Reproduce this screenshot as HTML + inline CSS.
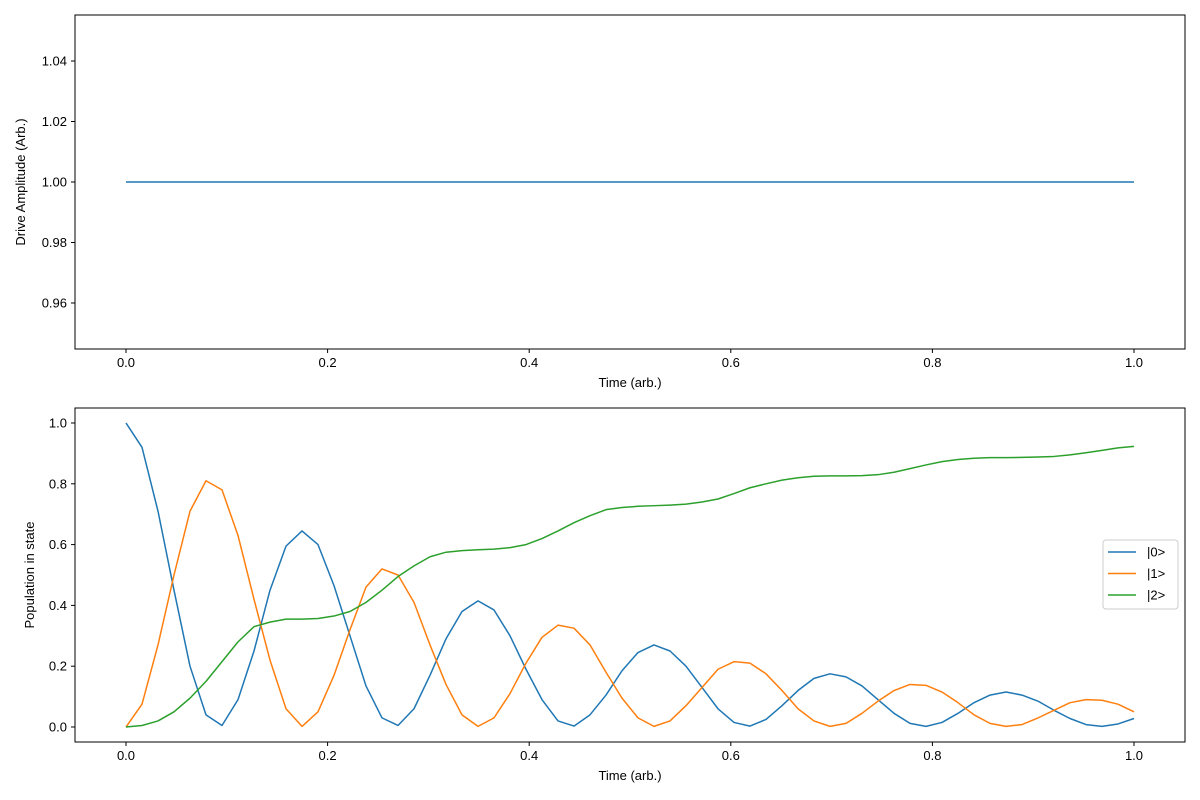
<!DOCTYPE html>
<html><head><meta charset="utf-8"><style>
body{margin:0;background:#fff}
svg{display:block;font-family:"Liberation Sans","DejaVu Sans",sans-serif}
</style></head><body>
<svg id="fig" width="1200" height="800" viewBox="0 0 1200 800"></svg>
<script>
const driveTime=[0,1];
const driveAmp=[1,1];
const topYTicks=[0.96,0.98,1.00,1.02,1.04];
const xTicks=[0,0.2,0.4,0.6,0.8,1.0];
const botYTicks=[0,0.2,0.4,0.6,0.8,1.0];
const seriesNames=["|0>","|1>","|2>"];
const pop0=[1.0,0.92,0.71,0.45,0.20,0.04,0.005,0.09,0.25,0.45,0.595,0.645,0.60,0.465,0.30,0.135,0.03,0.005,0.06,0.17,0.29,0.38,0.415,0.385,0.30,0.19,0.09,0.02,0.003,0.04,0.105,0.185,0.245,0.27,0.25,0.20,0.13,0.06,0.015,0.003,0.025,0.07,0.12,0.16,0.175,0.165,0.135,0.09,0.045,0.012,0.002,0.015,0.045,0.08,0.105,0.115,0.105,0.085,0.055,0.028,0.008,0.002,0.01,0.028];
const pop1=[0,0.075,0.27,0.50,0.71,0.81,0.78,0.63,0.42,0.22,0.06,0.002,0.05,0.17,0.32,0.46,0.52,0.50,0.41,0.27,0.14,0.04,0.002,0.03,0.11,0.21,0.295,0.335,0.325,0.27,0.18,0.095,0.03,0.002,0.02,0.07,0.13,0.19,0.215,0.21,0.175,0.12,0.06,0.02,0.002,0.012,0.045,0.085,0.12,0.14,0.137,0.115,0.08,0.04,0.012,0.002,0.008,0.03,0.055,0.08,0.09,0.088,0.075,0.05];
const pop2=[0,0.005,0.02,0.05,0.095,0.15,0.215,0.28,0.33,0.345,0.355,0.355,0.357,0.365,0.38,0.41,0.45,0.495,0.53,0.56,0.575,0.58,0.583,0.585,0.59,0.60,0.62,0.645,0.672,0.695,0.715,0.722,0.726,0.728,0.73,0.733,0.74,0.75,0.768,0.787,0.80,0.812,0.82,0.825,0.826,0.826,0.827,0.83,0.838,0.85,0.862,0.873,0.88,0.884,0.886,0.886,0.887,0.888,0.89,0.895,0.902,0.91,0.918,0.923];
const colors=["#1f77b4","#ff7f0e","#2ca02c"];
const NS="http://www.w3.org/2000/svg";
const svg=document.getElementById('fig');
function mk(tag,attrs,parent){const e=document.createElementNS(NS,tag);for(const k in attrs)e.setAttribute(k,attrs[k]);(parent||svg).appendChild(e);return e;}
const X0=126,X1=1134;
const xs=v=>X0+(X1-X0)*v;
const yTop=v=>182-(v-1)*(121/0.04);
const yBot=v=>727-v*304;
function axes(top,bot,yfun,yt,fmt,ylabel,name){
  const g=mk('g',{});
  
  
  mk('rect',{x:75,y:top,width:1110,height:bot-top,fill:'none',stroke:'#000','stroke-width':1},g);
  xTicks.forEach(t=>{const x=xs(t);mk('line',{x1:x,x2:x,y1:bot,y2:bot+4,stroke:'#000'},g);
    const tx=mk('text',{x:x,y:bot+18,'text-anchor':'middle','font-size':13},g);tx.textContent=t.toFixed(1);
    });
  yt.forEach(t=>{const y=yfun(t);mk('line',{x1:71,x2:75,y1:y,y2:y,stroke:'#000'},g);
    const tx=mk('text',{x:67,y:y+4.5,'text-anchor':'end','font-size':13},g);tx.textContent=t.toFixed(fmt);
    });
  const xl=mk('text',{x:630,y:bot+38,'text-anchor':'middle','font-size':13},g);xl.textContent='Time (arb.)';
  
  const cy=(top+bot)/2;
  const yl=mk('text',{x:0,y:0,'text-anchor':'middle','font-size':13,transform:`translate(${name==='drive-axes'?25:34},${cy}) rotate(-90)`},g);yl.textContent=ylabel;
  
}
axes(15,349,yTop,topYTicks,2,'Drive Amplitude (Arb.)','drive-axes');
axes(408,742,yBot,botYTicks,1,'Population in state','population-axes');
const dl=mk('polyline',{points:driveTime.map((t,i)=>xs(t)+','+yTop(driveAmp[i])).join(' '),fill:'none',stroke:colors[0],'stroke-width':1.5});


[pop0,pop1,pop2].forEach((arr,k)=>{
  const n=arr.length;
  const pl=mk('polyline',{points:arr.map((v,i)=>xs(i/(n-1))+','+yBot(v)).join(' '),fill:'none',stroke:colors[k],'stroke-width':1.5,'stroke-linejoin':'round'});
  
  
});
const lg=mk('g',{});


mk('rect',{x:1103,y:540,width:75,height:69,rx:3,fill:'#fff',stroke:'#ccc'},lg);
seriesNames.forEach((s,k)=>{const y=552+k*21.5;
  mk('line',{x1:1108,x2:1136,y1:y,y2:y,stroke:colors[k],'stroke-width':1.5},lg);
  const t=mk('text',{x:1147,y:y+4.5,'font-size':13},lg);t.textContent=s;
  
  });
</script>
</body></html>
